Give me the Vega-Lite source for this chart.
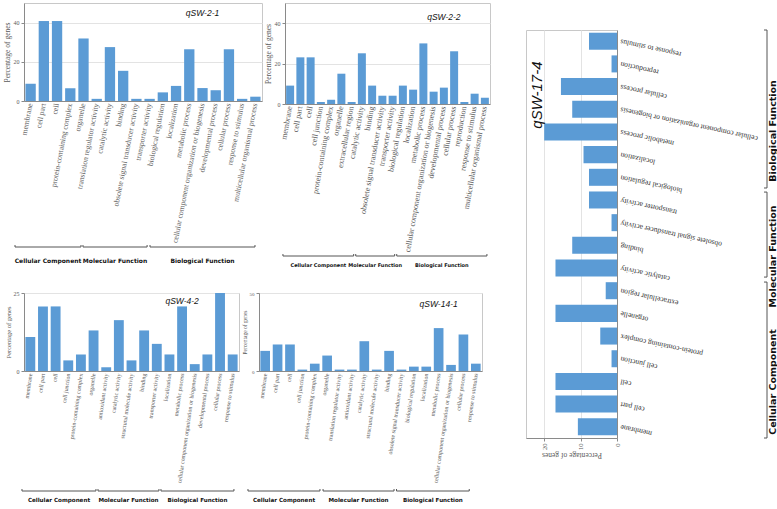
{
 "$schema": "https://vega.github.io/schema/vega-lite/v6.json",
 "background": "white",
 "padding": {"left": 2, "top": 2, "right": 0, "bottom": 0},
 "datasets": {
  "p1": [
   {"cat": "membrane", "pct": 8.8},
   {"cat": "cell part", "pct": 40.8},
   {"cat": "cell", "pct": 40.8},
   {"cat": "protein-containing complex", "pct": 6.5},
   {"cat": "organelle", "pct": 31.9},
   {"cat": "translation regulator activity", "pct": 1.1},
   {"cat": "catalytic activity", "pct": 27.5},
   {"cat": "binding", "pct": 15.4},
   {"cat": "obsolete signal transducer activity", "pct": 1.1},
   {"cat": "transporter activity", "pct": 1.1},
   {"cat": "biological regulation", "pct": 4.4},
   {"cat": "localization", "pct": 7.7},
   {"cat": "metabolic process", "pct": 26.4},
   {"cat": "cellular component organization or biogenesis", "pct": 6.6},
   {"cat": "developmental process", "pct": 5.5},
   {"cat": "cellular process", "pct": 26.4},
   {"cat": "response to stimulus", "pct": 1.1},
   {"cat": "multicellular organismal process", "pct": 2.2}
  ],
  "p2": [
   {"cat": "membrane", "pct": 9.1},
   {"cat": "cell part", "pct": 23.1},
   {"cat": "cell", "pct": 23.1},
   {"cat": "cell junction", "pct": 1.0},
   {"cat": "protein-containing complex", "pct": 2.1},
   {"cat": "organelle", "pct": 15.0},
   {"cat": "extracellular region", "pct": 1.0},
   {"cat": "catalytic activity", "pct": 25.1},
   {"cat": "binding", "pct": 9.1},
   {"cat": "obsolete signal transducer activity", "pct": 4.1},
   {"cat": "transporter activity", "pct": 4.1},
   {"cat": "biological regulation", "pct": 9.1},
   {"cat": "localization", "pct": 7.1},
   {"cat": "metabolic process", "pct": 30.0},
   {"cat": "cellular component organization or biogenesis", "pct": 6.1},
   {"cat": "developmental process", "pct": 8.1},
   {"cat": "cellular process", "pct": 26.1},
   {"cat": "reproduction", "pct": 1.0},
   {"cat": "response to stimulus", "pct": 5.1},
   {"cat": "multicellular organismal process", "pct": 3.1}
  ],
  "p3": [
   {"cat": "membrane", "pct": 10.9},
   {"cat": "cell part", "pct": 20.7},
   {"cat": "cell", "pct": 20.7},
   {"cat": "cell junction", "pct": 3.4},
   {"cat": "protein-containing complex", "pct": 5.3},
   {"cat": "organelle", "pct": 13.0},
   {"cat": "antioxidant activity", "pct": 1.2},
   {"cat": "catalytic activity", "pct": 16.3},
   {"cat": "structural molecule activity", "pct": 3.4},
   {"cat": "binding", "pct": 13.0},
   {"cat": "transporter activity", "pct": 8.7},
   {"cat": "localization", "pct": 5.3},
   {"cat": "metabolic process", "pct": 20.7},
   {"cat": "cellular component organization or biogenesis", "pct": 2.2},
   {"cat": "developmental process", "pct": 5.3},
   {"cat": "cellular process", "pct": 25.0},
   {"cat": "response to stimulus", "pct": 5.3}
  ],
  "p4": [
   {"cat": "membrane", "pct": 12.9},
   {"cat": "cell part", "pct": 17.0},
   {"cat": "cell", "pct": 17.0},
   {"cat": "cell junction", "pct": 0.9},
   {"cat": "protein-containing complex", "pct": 4.7},
   {"cat": "organelle", "pct": 9.9},
   {"cat": "translation regulator activity", "pct": 0.9},
   {"cat": "antioxidant activity", "pct": 0.9},
   {"cat": "catalytic activity", "pct": 19.1},
   {"cat": "structural molecule activity", "pct": 0.9},
   {"cat": "binding", "pct": 12.9},
   {"cat": "obsolete signal transducer activity", "pct": 0.9},
   {"cat": "biological regulation", "pct": 2.8},
   {"cat": "localization", "pct": 2.8},
   {"cat": "metabolic process", "pct": 27.5},
   {"cat": "cellular component organization or biogenesis", "pct": 3.9},
   {"cat": "cellular process", "pct": 23.4},
   {"cat": "response to stimulus", "pct": 4.7}
  ],
  "p5": [
   {"cat": "membrane", "pct": 10.75},
   {"cat": "cell part", "pct": 16.9},
   {"cat": "cell", "pct": 16.9},
   {"cat": "cell junction", "pct": 1.5},
   {"cat": "protein-containing complex", "pct": 4.6},
   {"cat": "organelle", "pct": 16.9},
   {"cat": "extracellular region", "pct": 3.1},
   {"cat": "catalytic activity", "pct": 16.9},
   {"cat": "binding", "pct": 12.3},
   {"cat": "obsolete signal transducer activity", "pct": 1.5},
   {"cat": "transporter activity", "pct": 7.7},
   {"cat": "biological regulation", "pct": 7.7},
   {"cat": "localization", "pct": 9.2},
   {"cat": "metabolic process", "pct": 20.0},
   {"cat": "cellular component organization or biogenesis", "pct": 12.3},
   {"cat": "cellular process", "pct": 15.4},
   {"cat": "reproduction", "pct": 1.5},
   {"cat": "response to stimulus", "pct": 7.7}
  ],
  "b1": [
   {"group": "Cellular Component", "start": -0.68, "end": 4.31},
   {"group": "Molecular Function", "start": 4.46, "end": 9.31},
   {"group": "Biological Function", "start": 9.53, "end": 17.47}
  ],
  "b2": [
   {"group": "Cellular Component", "start": -0.2, "end": 6.7},
   {"group": "Molecular Function", "start": 6.9, "end": 10.7},
   {"group": "Biological Function", "start": 10.9, "end": 19.7}
  ],
  "b3": [
   {"group": "Cellular Component", "start": -0.16, "end": 5.69},
   {"group": "Molecular Function", "start": 5.85, "end": 10.67},
   {"group": "Biological Function", "start": 10.83, "end": 16.6}
  ],
  "b4": [
   {"group": "Cellular Component", "start": -0.89, "end": 4.92},
   {"group": "Molecular Function", "start": 5.17, "end": 10.9},
   {"group": "Biological Function", "start": 11.1, "end": 16.97}
  ],
  "b5": [
   {"group": "Cellular Component", "start": 0, "end": 6.88},
   {"group": "Molecular Function", "start": 7.1, "end": 10.85},
   {"group": "Biological Function", "start": 11.03, "end": 18}
  ]
 },
 "hconcat": [
  {
   "spacing": 20,
   "vconcat": [
    {
     "spacing": 0,
     "hconcat": [
      {
       "spacing": 0,
       "vconcat": [
        {
         "width": 238, "height": 98,
         "layer": [
          {"data": {"name": "p1"}, "mark": {"type": "bar", "color": "#5b9bd5"},
           "encoding": {
            "x": {"field": "cat", "type": "nominal", "sort": null, "scale": {"paddingInner": 0.22, "paddingOuter": 0.11},
                  "axis": {"title": null, "labelAngle": -79, "labelAlign": "right", "labelBaseline": "middle", "labelFontSize": 7.7, "ticks": false, "labelPadding": 2, "labelLimit": 400}},
            "y": {"field": "pct", "type": "quantitative", "scale": {"domain": [0, 50], "nice": false},
                  "axis": {"title": "Percentage of genes", "values": [0, 10, 20, 30, 40, 50], "labelOverlap": false, "labelFlush": false, "labelFontSize": 6, "titleFontSize": 7.5, "tickSize": 3, "labelPadding": 2, "titlePadding": 2}}
           }},
          {"data": {"values": [{"label": "qSW-2-1"}]}, "mark": {"type": "text", "font": "Liberation Sans", "fontStyle": "italic", "fontSize": 8.5, "color": "#111111"},
           "encoding": {"x": {"datum": "cellular component organization or biogenesis"}, "y": {"datum": 45}, "text": {"field": "label"}}}
         ]
        },
        {
         "width": 238, "height": 22,
         "data": {"name": "b1"},
         "transform": [{"calculate": "(datum.start + datum.end) / 2", "as": "mid"}],
         "view": {"stroke": null},
         "layer": [
          {"mark": {"type": "rule", "color": "#555555"},
           "encoding": {"x": {"field": "start", "type": "quantitative", "scale": {"domain": [0, 18], "nice": false, "zero": false}, "axis": null},
                        "x2": {"field": "end"},
                        "y": {"datum": 3, "type": "quantitative", "scale": {"domain": [0, 22], "reverse": true, "nice": false}, "axis": null}}},
          {"mark": {"type": "rule", "color": "#555555"},
           "encoding": {"x": {"field": "start", "type": "quantitative", "axis": null}, "y": {"datum": 1, "type": "quantitative", "axis": null}, "y2": {"datum": 3}}},
          {"mark": {"type": "rule", "color": "#555555"},
           "encoding": {"x": {"field": "end", "type": "quantitative", "axis": null}, "y": {"datum": 1, "type": "quantitative", "axis": null}, "y2": {"datum": 3}}},
          {"mark": {"type": "text", "font": "DejaVu Sans", "fontWeight": "bold", "fontSize": 6, "baseline": "middle", "color": "#111111"},
           "encoding": {"x": {"field": "mid", "type": "quantitative", "axis": null}, "y": {"datum": 17, "type": "quantitative", "axis": null}, "text": {"field": "group"}}}
         ]
        }
       ]
      },
      {
       "spacing": 0,
       "vconcat": [
        {
         "width": 205, "height": 101,
         "layer": [
          {"data": {"name": "p2"}, "mark": {"type": "bar", "color": "#5b9bd5"},
           "encoding": {
            "x": {"field": "cat", "type": "nominal", "sort": null, "scale": {"paddingInner": 0.22, "paddingOuter": 0.11},
                  "axis": {"title": null, "labelAngle": -80, "labelAlign": "right", "labelBaseline": "middle", "labelFontSize": 8, "ticks": false, "labelPadding": 2, "labelLimit": 400}},
            "y": {"field": "pct", "type": "quantitative", "scale": {"domain": [0, 50], "nice": false},
                  "axis": {"title": "Percentage of genes", "values": [0, 10, 20, 30, 40, 50], "labelOverlap": false, "labelFlush": false, "labelFontSize": 6, "titleFontSize": 7.5, "tickSize": 3, "labelPadding": 2, "titlePadding": 2}}
           }},
          {"data": {"values": [{"label": "qSW-2-2"}]}, "mark": {"type": "text", "font": "Liberation Sans", "fontStyle": "italic", "fontSize": 8.5, "color": "#111111"},
           "encoding": {"x": {"datum": "developmental process"}, "y": {"datum": 43}, "text": {"field": "label"}}}
         ]
        },
        {
         "width": 205, "height": 16,
         "data": {"name": "b2"},
         "transform": [{"calculate": "(datum.start + datum.end) / 2", "as": "mid"}],
         "view": {"stroke": null},
         "layer": [
          {"mark": {"type": "rule", "color": "#555555"},
           "encoding": {"x": {"field": "start", "type": "quantitative", "scale": {"domain": [0, 20], "nice": false, "zero": false}, "axis": null},
                        "x2": {"field": "end"},
                        "y": {"datum": 3, "type": "quantitative", "scale": {"domain": [0, 16], "reverse": true, "nice": false}, "axis": null}}},
          {"mark": {"type": "rule", "color": "#555555"},
           "encoding": {"x": {"field": "start", "type": "quantitative", "axis": null}, "y": {"datum": 1, "type": "quantitative", "axis": null}, "y2": {"datum": 3}}},
          {"mark": {"type": "rule", "color": "#555555"},
           "encoding": {"x": {"field": "end", "type": "quantitative", "axis": null}, "y": {"datum": 1, "type": "quantitative", "axis": null}, "y2": {"datum": 3}}},
          {"mark": {"type": "text", "font": "DejaVu Sans", "fontWeight": "bold", "fontSize": 5, "baseline": "middle", "color": "#111111"},
           "encoding": {"x": {"field": "mid", "type": "quantitative", "axis": null}, "y": {"datum": 12, "type": "quantitative", "axis": null}, "text": {"field": "group"}}}
         ]
        }
       ]
      }
     ]
    },
    {
     "spacing": 1,
     "hconcat": [
      {
       "spacing": 4,
       "vconcat": [
        {
         "width": 215, "height": 78,
         "layer": [
          {"data": {"name": "p3"}, "mark": {"type": "bar", "color": "#5b9bd5"},
           "encoding": {
            "x": {"field": "cat", "type": "nominal", "sort": null, "scale": {"paddingInner": 0.22, "paddingOuter": 0.11},
                  "axis": {"title": null, "labelAngle": -82, "labelAlign": "right", "labelBaseline": "middle", "labelFontSize": 6, "ticks": false, "labelPadding": 2, "labelLimit": 400}},
            "y": {"field": "pct", "type": "quantitative", "scale": {"domain": [0, 25], "nice": false},
                  "axis": {"title": "Percentage of genes", "values": [0, 5, 10, 15, 20, 25], "labelOverlap": false, "labelFlush": false, "labelFontSize": 6, "titleFontSize": 6.5, "tickSize": 3, "labelPadding": 2, "titlePadding": 2}}
           }},
          {"data": {"values": [{"label": "qSW-4-2"}]}, "mark": {"type": "text", "font": "Liberation Sans", "fontStyle": "italic", "fontSize": 8.5, "color": "#111111"},
           "encoding": {"x": {"datum": "metabolic process"}, "y": {"datum": 22.5}, "text": {"field": "label"}}}
         ]
        },
        {
         "width": 215, "height": 16,
         "data": {"name": "b3"},
         "transform": [{"calculate": "(datum.start + datum.end) / 2", "as": "mid"}],
         "view": {"stroke": null},
         "layer": [
          {"mark": {"type": "rule", "color": "#555555"},
           "encoding": {"x": {"field": "start", "type": "quantitative", "scale": {"domain": [0, 17], "nice": false, "zero": false}, "axis": null},
                        "x2": {"field": "end"},
                        "y": {"datum": 3, "type": "quantitative", "scale": {"domain": [0, 16], "reverse": true, "nice": false}, "axis": null}}},
          {"mark": {"type": "rule", "color": "#555555"},
           "encoding": {"x": {"field": "start", "type": "quantitative", "axis": null}, "y": {"datum": 1, "type": "quantitative", "axis": null}, "y2": {"datum": 3}}},
          {"mark": {"type": "rule", "color": "#555555"},
           "encoding": {"x": {"field": "end", "type": "quantitative", "axis": null}, "y": {"datum": 1, "type": "quantitative", "axis": null}, "y2": {"datum": 3}}},
          {"mark": {"type": "text", "font": "DejaVu Sans", "fontWeight": "bold", "fontSize": 5.6, "baseline": "middle", "color": "#111111"},
           "encoding": {"x": {"field": "mid", "type": "quantitative", "axis": null}, "y": {"datum": 12, "type": "quantitative", "axis": null}, "text": {"field": "group"}}}
         ]
        }
       ]
      },
      {
       "spacing": 4,
       "vconcat": [
        {
         "width": 223, "height": 78,
         "layer": [
          {"data": {"name": "p4"}, "mark": {"type": "bar", "color": "#5b9bd5"},
           "encoding": {
            "x": {"field": "cat", "type": "nominal", "sort": null, "scale": {"paddingInner": 0.22, "paddingOuter": 0.11},
                  "axis": {"title": null, "labelAngle": -82, "labelAlign": "right", "labelBaseline": "middle", "labelFontSize": 6, "ticks": false, "labelPadding": 2, "labelLimit": 400}},
            "y": {"field": "pct", "type": "quantitative", "scale": {"domain": [0, 50], "nice": false},
                  "axis": {"title": "Percentage of genes", "values": [0, 10, 20, 30, 40, 50], "labelOverlap": false, "labelFlush": false, "labelFontSize": 5, "titleFontSize": 5.5, "tickSize": 3, "labelPadding": 2, "titlePadding": 2}}
           }},
          {"data": {"values": [{"label": "qSW-14-1"}]}, "mark": {"type": "text", "font": "Liberation Sans", "fontStyle": "italic", "fontSize": 8.5, "color": "#111111"},
           "encoding": {"x": {"datum": "metabolic process"}, "y": {"datum": 43}, "text": {"field": "label"}}}
         ]
        },
        {
         "width": 223, "height": 16,
         "data": {"name": "b4"},
         "transform": [{"calculate": "(datum.start + datum.end) / 2", "as": "mid"}],
         "view": {"stroke": null},
         "layer": [
          {"mark": {"type": "rule", "color": "#555555"},
           "encoding": {"x": {"field": "start", "type": "quantitative", "scale": {"domain": [0, 18], "nice": false, "zero": false}, "axis": null},
                        "x2": {"field": "end"},
                        "y": {"datum": 3, "type": "quantitative", "scale": {"domain": [0, 16], "reverse": true, "nice": false}, "axis": null}}},
          {"mark": {"type": "rule", "color": "#555555"},
           "encoding": {"x": {"field": "start", "type": "quantitative", "axis": null}, "y": {"datum": 1, "type": "quantitative", "axis": null}, "y2": {"datum": 3}}},
          {"mark": {"type": "rule", "color": "#555555"},
           "encoding": {"x": {"field": "end", "type": "quantitative", "axis": null}, "y": {"datum": 1, "type": "quantitative", "axis": null}, "y2": {"datum": 3}}},
          {"mark": {"type": "text", "font": "DejaVu Sans", "fontWeight": "bold", "fontSize": 5.6, "baseline": "middle", "color": "#111111"},
           "encoding": {"x": {"field": "mid", "type": "quantitative", "axis": null}, "y": {"datum": 12, "type": "quantitative", "axis": null}, "text": {"field": "group"}}}
         ]
        }
       ]
      }
     ]
    }
   ]
  },
  {
   "spacing": 0,
   "vconcat": [
    {"width": 10, "height": 26, "data": {"values": []}, "mark": "rule", "encoding": {}, "view": {"stroke": null}},
    {
     "spacing": 0,
     "hconcat": [
      {
       "width": 91, "height": 408,
       "layer": [
        {"data": {"name": "p5"}, "mark": {"type": "bar", "color": "#5b9bd5"},
         "encoding": {
          "y": {"field": "cat", "type": "nominal",
                "sort": ["response to stimulus", "reproduction", "cellular process", "cellular component organization or biogenesis", "metabolic process", "localization", "biological regulation", "transporter activity", "obsolete signal transducer activity", "binding", "catalytic activity", "extracellular region", "organelle", "protein-containing complex", "cell junction", "cell", "cell part", "membrane"],
                "scale": {"paddingInner": 0.25, "paddingOuter": 0.12},
                "axis": {"orient": "right", "title": null, "grid": false, "labelAngle": 192, "labelAlign": "right", "labelBaseline": "middle", "labelFontSize": 7.6, "labelColor": "#333333", "ticks": false, "labelPadding": 3, "labelLimit": 400}},
          "x": {"field": "pct", "type": "quantitative", "scale": {"domain": [0, 25], "reverse": true, "nice": false},
                "axis": {"orient": "bottom", "grid": true, "values": [0, 5, 10, 15, 20, 25], "labelOverlap": false, "labelFlush": false, "labelAngle": -90, "labelFontSize": 6.5, "tickSize": 3, "labelPadding": 2, "title": "Percentage of genes", "titleAngle": 180, "titleFontSize": 7.5, "titlePadding": 9}}
         }},
        {"data": {"values": [{"label": "qSW-17-4"}]}, "mark": {"type": "text", "font": "Liberation Sans", "fontStyle": "italic", "fontSize": 15, "angle": 270, "color": "#111111"},
         "encoding": {"x": {"datum": 22}, "y": {"datum": "cellular process", "bandPosition": 1}, "text": {"field": "label"}}}
       ]
      },
      {
       "width": 14, "height": 408,
       "data": {"name": "b5"},
       "transform": [{"calculate": "(datum.start + datum.end) / 2", "as": "mid"}],
       "view": {"stroke": null},
       "layer": [
        {"mark": {"type": "rule", "color": "#555555"},
         "encoding": {"y": {"field": "start", "type": "quantitative", "scale": {"domain": [0, 18], "nice": false, "zero": false}, "axis": null},
                      "y2": {"field": "end"},
                      "x": {"datum": 8, "type": "quantitative", "scale": {"domain": [0, 14], "nice": false}, "axis": null}}},
        {"mark": {"type": "rule", "color": "#555555"},
         "encoding": {"y": {"field": "start", "type": "quantitative", "axis": null}, "x": {"datum": 5, "type": "quantitative", "axis": null}, "x2": {"datum": 8}}},
        {"mark": {"type": "rule", "color": "#555555"},
         "encoding": {"y": {"field": "end", "type": "quantitative", "axis": null}, "x": {"datum": 5, "type": "quantitative", "axis": null}, "x2": {"datum": 8}}},
        {"mark": {"type": "text", "font": "DejaVu Sans", "fontWeight": "bold", "fontSize": 9.5, "angle": 270, "dx": -22, "baseline": "middle", "color": "#111111"},
         "encoding": {"y": {"field": "mid", "type": "quantitative", "axis": null}, "x": {"datum": 14, "type": "quantitative", "axis": null}, "text": {"field": "group"}}}
       ]
      }
     ]
    }
   ]
  }
 ],
 "spacing": 34,
 "config": {
  "view": {"stroke": "#c8c8c8", "strokeWidth": 1},
  "axis": {"labelFont": "Liberation Serif", "titleFont": "Liberation Serif", "labelColor": "#5a5a5a", "titleColor": "#5a5a5a", "titleFontWeight": "normal", "domainColor": "#8a8a8a", "tickColor": "#8a8a8a", "gridColor": "#e3e3e3"},
  "axisX": {"grid": false},
  "axisY": {"grid": true}
 }
}
